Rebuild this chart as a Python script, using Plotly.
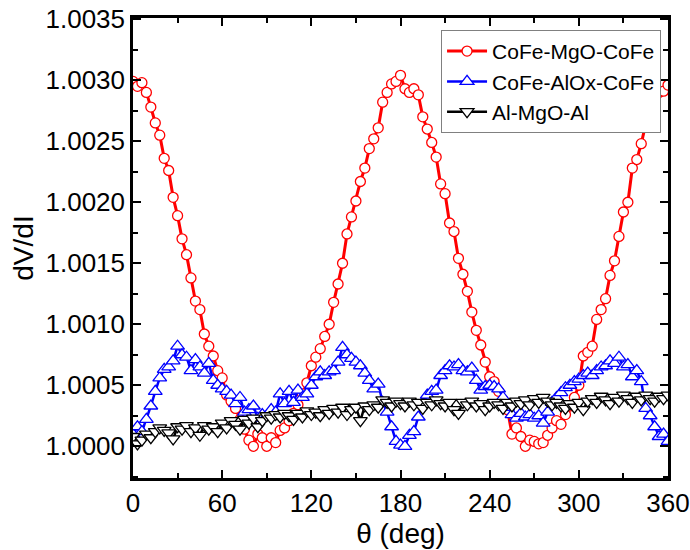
import plotly.graph_objects as go

theta = list(range(0, 361, 3))

# CoFe-MgO-CoFe : dV/dI - 1
mgo_cofe = [
    0.00299, 0.00295, 0.00298, 0.00290, 0.00278, 0.00265, 0.00255, 0.00236, 0.00226, 0.00204,
    0.00189, 0.00170, 0.00157, 0.00138, 0.00119, 0.00112, 0.00092, 0.00082, 0.00074, 0.00062,
    0.00056, 0.00042, 0.00037, 0.00031, 0.00022, 0.00014, 0.00005, 0.00000, 0.00010, 0.00007,
    0.00000, 0.00007, 0.00003, 0.00013, 0.00015, 0.00021, 0.00027, 0.00034, 0.00043, 0.00052,
    0.00066, 0.00073, 0.00080, 0.00090, 0.00100, 0.00118, 0.00133, 0.00150, 0.00174, 0.00188,
    0.00201, 0.00217, 0.00228, 0.00244, 0.00252, 0.00261, 0.00282, 0.00290, 0.00297, 0.00299,
    0.00304, 0.00293, 0.00290, 0.00293, 0.00288, 0.00270, 0.00260, 0.00249, 0.00237, 0.00215,
    0.00207, 0.00183, 0.00176, 0.00154, 0.00141, 0.00127, 0.00110, 0.00095, 0.00083, 0.00069,
    0.00057, 0.00053, 0.00045, 0.00038, 0.00030, 0.00010, 0.00015, 0.00008, 0.00000, 0.00005,
    0.00004, 0.00002, 0.00003, 0.00009, 0.00015, 0.00021, 0.00018, 0.00026, 0.00033, 0.00040,
    0.00050, 0.00074, 0.00077, 0.00082, 0.00104, 0.00112, 0.00121, 0.00140, 0.00152, 0.00172,
    0.00192, 0.00200, 0.00228, 0.00235, 0.00248, 0.00264, 0.00272, 0.00278, 0.00290, 0.00291,
    0.00296,
]

# CoFe-AlOx-CoFe : dV/dI - 1
alox_cofe = [
    0.00010, 0.00016, 0.00012, 0.00022, 0.00033, 0.00045, 0.00056, 0.00063, 0.00065, 0.00070,
    0.00082, 0.00075, 0.00073, 0.00062, 0.00071, 0.00065, 0.00060, 0.00068, 0.00054, 0.00050,
    0.00047, 0.00045, 0.00042, 0.00035, 0.00040, 0.00028, 0.00030, 0.00033, 0.00023, 0.00026,
    0.00025, 0.00030, 0.00028, 0.00043, 0.00035, 0.00045, 0.00036, 0.00046, 0.00040, 0.00043,
    0.00050, 0.00057, 0.00061, 0.00058, 0.00061, 0.00062, 0.00069, 0.00081, 0.00075, 0.00072,
    0.00069, 0.00066, 0.00060, 0.00054, 0.00047, 0.00051, 0.00036, 0.00028, 0.00016, 0.00004,
    0.00001, 0.00000, 0.00009, 0.00012, 0.00024, 0.00035, 0.00042, 0.00045, 0.00046, 0.00058,
    0.00062, 0.00066, 0.00065, 0.00067, 0.00062, 0.00061, 0.00064, 0.00054, 0.00046, 0.00049,
    0.00050, 0.00049, 0.00047, 0.00040, 0.00032, 0.00026, 0.00023, 0.00027, 0.00024, 0.00026,
    0.00023, 0.00025, 0.00019, 0.00028, 0.00036, 0.00040, 0.00044, 0.00048, 0.00050, 0.00053,
    0.00055, 0.00058, 0.00060, 0.00058, 0.00062, 0.00065, 0.00066, 0.00070, 0.00068, 0.00073,
    0.00065, 0.00067, 0.00057, 0.00062, 0.00053, 0.00031, 0.00025, 0.00016, 0.00008, 0.00010,
    0.00004,
]

# Al-MgO-Al : dV/dI - 1
al_mgo_al = [
    0.00008, 0.00002, 0.00005, 0.00010, 0.00007, 0.00012, 0.00015, 0.00013, 0.00011, 0.00006,
    0.00016, 0.00014, 0.00017, 0.00012, 0.00015, 0.00009, 0.00017, 0.00014, 0.00016, 0.00012,
    0.00019, 0.00015, 0.00021, 0.00018, 0.00014, 0.00022, 0.00019, 0.00023, 0.00016, 0.00021,
    0.00025, 0.00023, 0.00026, 0.00024, 0.00027, 0.00025, 0.00022, 0.00027, 0.00024, 0.00029,
    0.00026, 0.00028, 0.00025, 0.00030, 0.00027, 0.00031, 0.00028, 0.00032, 0.00026, 0.00030,
    0.00032, 0.00021, 0.00033, 0.00030, 0.00034, 0.00032, 0.00038, 0.00036, 0.00033, 0.00037,
    0.00035, 0.00033, 0.00037, 0.00034, 0.00036, 0.00031, 0.00036, 0.00034, 0.00038, 0.00035,
    0.00033, 0.00036, 0.00030, 0.00027, 0.00036, 0.00034, 0.00037, 0.00033, 0.00035, 0.00030,
    0.00033, 0.00036, 0.00034, 0.00031, 0.00036, 0.00033, 0.00037, 0.00035, 0.00038, 0.00034,
    0.00039, 0.00036, 0.00040, 0.00037, 0.00034, 0.00036, 0.00033, 0.00031, 0.00035, 0.00032,
    0.00036, 0.00030, 0.00037, 0.00039, 0.00036, 0.00041, 0.00038, 0.00035, 0.00040, 0.00037,
    0.00042, 0.00039, 0.00036, 0.00041, 0.00038, 0.00042, 0.00039, 0.00037, 0.00041, 0.00039,
    0.00042,
]

x_ticks = [0, 60, 120, 180, 240, 300, 360]
y_ticks = [1.0000, 1.0005, 1.0010, 1.0015, 1.0020, 1.0025, 1.0030, 1.0035]

series = [
    ("CoFe-MgO-CoFe", mgo_cofe, "#ff0000", "circle", 10, 3.0),
    ("CoFe-AlOx-CoFe", alox_cofe, "#0000ff", "triangle-up", 12, 2.5),
    ("Al-MgO-Al", al_mgo_al, "#000000", "triangle-down", 12, 2.5),
]

FONT = "Arial, Liberation Sans, sans-serif"

fig = go.Figure()
for name, vals, color, sym, msize, lw in series:
    fig.add_trace(go.Scatter(
        x=theta,
        y=[1.0 + v for v in vals],
        mode="lines+markers",
        name=name,
        line=dict(color=color, width=lw),
        marker=dict(symbol=sym, size=msize, color="white",
                    line=dict(color=color, width=1.3)),
    ))

axis_common = dict(
    showline=True, linewidth=2.5, linecolor="black", mirror="ticks",
    ticks="inside", ticklen=8, tickwidth=2, tickcolor="black",
    showgrid=False, zeroline=False, automargin=False,
    tickfont=dict(family=FONT, size=26, color="black"),
)

fig.update_layout(
    width=690, height=550,
    margin=dict(l=133, r=22, t=18, b=72),
    paper_bgcolor="white", plot_bgcolor="white",
    font=dict(family=FONT, color="black"),
    xaxis=dict(
        range=[0, 360], tickvals=x_ticks,
        title=dict(text="θ (deg)", font=dict(family=FONT, size=28), standoff=0),
        minor=dict(dtick=30, tick0=0, ticks="inside", ticklen=5, tickwidth=2, tickcolor="black"),
        **axis_common,
    ),
    yaxis=dict(
        range=[0.99974, 1.00351], tickvals=y_ticks, tickformat=".4f",
        title=dict(text="dV/dI", font=dict(family=FONT, size=28), standoff=4),
        minor=dict(dtick=0.00025, tick0=1.0, ticks="inside", ticklen=5, tickwidth=2, tickcolor="black"),
        **axis_common,
    ),
    legend=dict(
        x=0.987, y=0.974, xanchor="right", yanchor="top",
        bgcolor="white", bordercolor="#808080", borderwidth=1,
        font=dict(family=FONT, size=21, color="black"),
        tracegroupgap=0, itemwidth=40,
    ),
    showlegend=True,
)

fig.write_html("out.html")
